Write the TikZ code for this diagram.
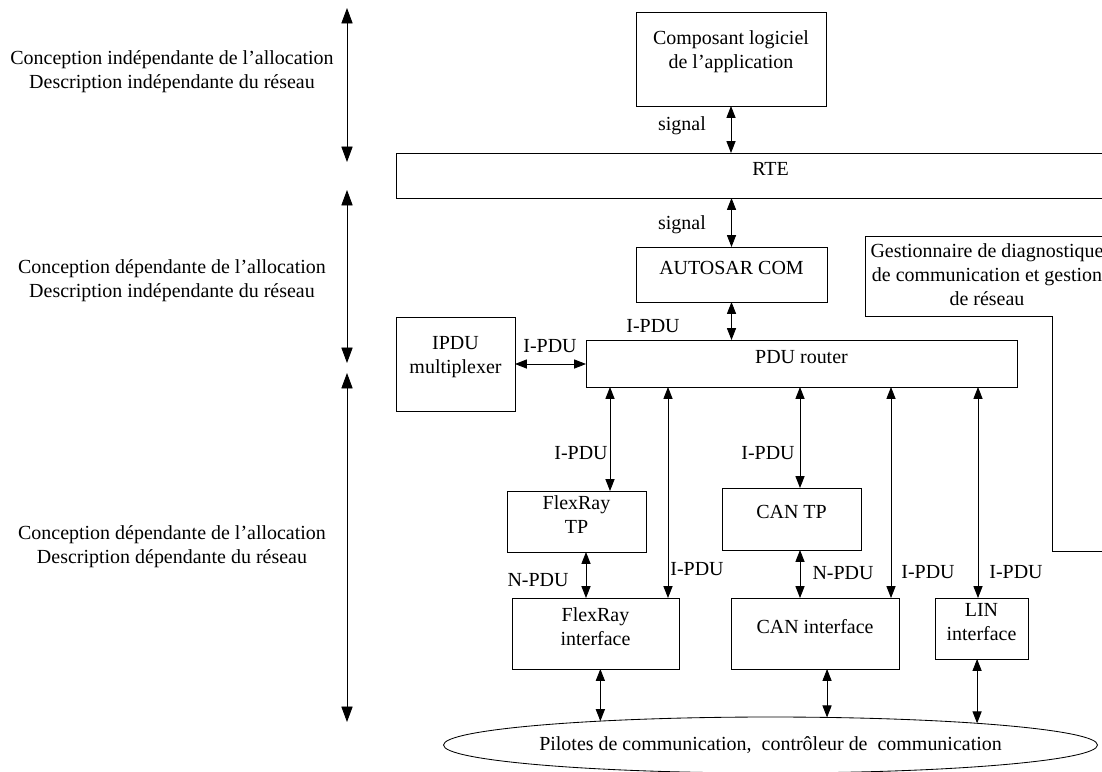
\documentclass[tikz,border=0pt]{standalone}
\usepackage{fontspec}
\setmainfont{Liberation Serif}
\usetikzlibrary{arrows.meta,shapes.geometric,fit}

\begin{document}
\begin{tikzpicture}[x=0.025cm,y=-0.025cm,
  font=\fontsize{14.2}{17}\selectfont,
  box/.style={draw,line width=0.6pt,align=center,inner sep=0pt,outer sep=0pt},
  lbl/.style={inner sep=0pt},
  link/.style={{Triangle[length=8.5pt,width=6.5pt]}-{Triangle[length=8.5pt,width=6.5pt]},line width=0.6pt},
  level/.style={{Triangle[length=11pt,width=8pt]}-{Triangle[length=11pt,width=8pt]},line width=0.6pt}]

\useasboundingbox (0,0) rectangle (1102,771);
\clip (0,0) rectangle (1102,771);

% levels on the left
\coordinate (l1t) at (347,8);
\coordinate (l1b) at (347,162);
\coordinate (l2t) at (347,190);
\coordinate (l2b) at (347,363);
\coordinate (l3t) at (347,373);
\coordinate (l3b) at (347,722);
\draw[level] (l1t) -- (l1b);
\draw[level] (l2t) -- (l2b);
\draw[level] (l3t) -- (l3b);

\node[lbl,align=center] (lev1) at (172,72) {Conception indépendante de l'allocation\\Description indépendante du réseau};
\node[lbl,align=center] (lev2) at (172,281) {Conception dépendante de l'allocation\\Description indépendante du réseau};
\node[lbl,align=center] (lev3) at (172,547) {Conception dépendante de l'allocation\\Description dépendante du réseau};

% layers
\node[box,fit={(636,12) (826,106)}] (app) {Composant logiciel\\de l'application};
\node[box,fit={(396,153) (1145,198)}] (rte) {RTE};
\node[box,fit={(636,247) (827,302)}] (com) {AUTOSAR COM};
\node[box,fit={(396,317) (515,411)}] (mux) {IPDU\\multiplexer};
\node[box,fit={(586,340) (1017,387)}] (router) {PDU router};
\node[box,fit={(507,491) (646,552)}] (ftp) {FlexRay\\TP};
\node[box,fit={(722,488) (861,550)}] (ctp) {CAN TP};
\node[box,fit={(512,598) (679,669)}] (fri) {FlexRay\\interface};
\node[box,fit={(731,598) (899,669)}] (cani) {CAN interface};
\node[box,fit={(935,598) (1028,659)}] (lini) {LIN\\interface};
\node[box,ellipse,minimum width=15.525cm,minimum height=1.4cm] (pil) at (770.5,745)
  {Pilotes de communication,~ contrôleur de~ communication};

% gestionnaire
\node[lbl,align=center] (gest) at (987,275) {Gestionnaire de diagnostique\\de communication et gestion\\de réseau};
\draw[line width=0.6pt] (1110,236) -- (865,236) -- (865,316) -- (1052,316) -- (1052,551) -- (1110,551);

% vertical links
\draw[link] (app.south) -- (app.south |- rte.north);
\draw[link] (com.north) -- (com.north |- rte.south);
\draw[link] (com.south) -- (com.south |- router.north);
\draw[link] (mux.east) -- (mux.east -| router.west);

\coordinate (rp1) at (610,387);
\coordinate (rp2) at (668,387);
\coordinate (rp3) at (800,387);
\coordinate (rp4) at (891,387);
\coordinate (rp5) at (978,387);
\draw[link] (rp1) -- (rp1 |- ftp.north);
\draw[link] (rp2) -- (rp2 |- fri.north);
\draw[link] (rp3) -- (rp3 |- ctp.north);
\draw[link] (rp4) -- (rp4 |- cani.north);
\draw[link] (rp5) -- (rp5 |- lini.north);

\coordinate (ftpb) at (586,552);
\coordinate (ctpb) at (800,550);
\draw[link] (ftpb) -- (ftpb |- fri.north);
\draw[link] (ctpb) -- (ctpb |- cani.north);

\draw[link] (pil.172.75 |- fri.south) -- (pil.172.75);
\draw[link] (pil.26.83 |- cani.south) -- (pil.26.83);
\draw[link] (pil.6.24 |- lini.south) -- (pil.6.24);

% labels
\node[lbl] (sig1) at (682,126) {signal};
\node[lbl] (sig2) at (682,225) {signal};
\node[lbl] (pdu0) at (653,326) {I-PDU};
\node[lbl] (pdum) at (550,346) {I-PDU};
\node[lbl] (pdu1) at (581,453) {I-PDU};
\node[lbl] (pdu3) at (768,453) {I-PDU};
\node[lbl] (npdu1) at (538,580) {N-PDU};
\node[lbl] (npdu2) at (843,573) {N-PDU};
\node[lbl] (pdu2) at (697,569) {I-PDU};
\node[lbl] (pdu4) at (928,572) {I-PDU};
\node[lbl] (pdu5) at (1016,572) {I-PDU};

\end{tikzpicture}
\end{document}
